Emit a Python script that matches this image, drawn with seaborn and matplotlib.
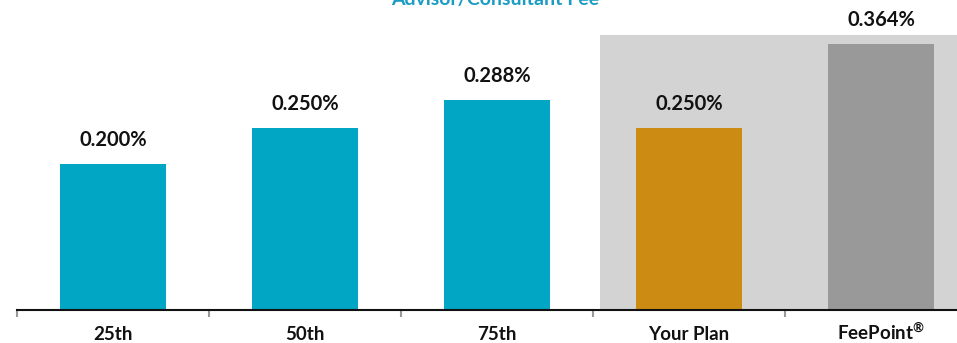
import matplotlib
matplotlib.use("Agg")
import matplotlib.pyplot as plt
import seaborn as sns
import pandas as pd
from matplotlib.ticker import FixedLocator

categories = ["25th", "50th", "75th", "Your Plan", "FeePoint®"]
values = [0.200, 0.250, 0.288, 0.250, 0.364]
labels = ["0.200%", "0.250%", "0.288%", "0.250%", "0.364%"]
colors = ["#00A6C4", "#00A6C4", "#00A6C4", "#CC8C14", "#999999"]
title = "Advisor/Consultant Fee"

sns.set_theme(style="white")
plt.rcParams["font.family"] = ["Lato", "DejaVu Sans"]
plt.rcParams["mathtext.fontset"] = "custom"
plt.rcParams["mathtext.rm"] = "Lato:bold"
plt.rcParams["mathtext.it"] = "Lato:bold"
plt.rcParams["mathtext.bf"] = "Lato:bold"

df = pd.DataFrame({"cat": categories, "val": values})

fig = plt.figure(figsize=(9.57, 3.43), dpi=100)
ax = fig.add_axes([17/957, 33/343, 960/957, 310/343])

ax.axvspan(2.536, 4.6, ymin=0, ymax=0.377/(310/730), color="#D3D3D3", zorder=0, lw=0)

sns.barplot(data=df, x="cat", y="val", hue="cat", palette=colors, width=0.55,
            legend=False, ax=ax, zorder=2, saturation=1, linewidth=0)

ax.set_ylim(0, 310/730)
ax.set_xlim(-0.5, 4.5)

for i, (v, lab) in enumerate(zip(values, labels)):
    ax.text(i, v + 0.019, lab, ha="center", va="bottom", fontsize=14.5,
            fontweight="bold", color="#111111")

for s in ["top", "right", "left"]:
    ax.spines[s].set_visible(False)
ax.spines["bottom"].set_color("#111111")
ax.spines["bottom"].set_linewidth(1.5)
ax.set_yticks([])
ax.set_xlabel("")
ax.set_ylabel("")
ax.tick_params(axis="x", which="major", length=0, pad=21.5, labelsize=13.5)

# Render the registered mark as a small superscript
ticklabels = [c.replace("®", r"$^{\mathrm{®}}$") for c in categories]
ax.set_xticks(range(len(categories)))
ax.set_xticklabels(ticklabels)
for t in ax.get_xticklabels():
    t.set_fontweight("bold")
    t.set_color("#111111")
    t.set_verticalalignment("baseline")

ax.xaxis.set_minor_locator(FixedLocator([-0.5, 0.5, 1.5, 2.5, 3.5]))
ax.tick_params(axis="x", which="minor", length=5, width=1.5, color="#999999",
               bottom=True)

fig.text(495/957, 1 - 5/343, title, ha="center", va="baseline", fontsize=14,
         fontweight="bold", color="#1A9CC4")

fig.savefig("out.png", dpi=100)
